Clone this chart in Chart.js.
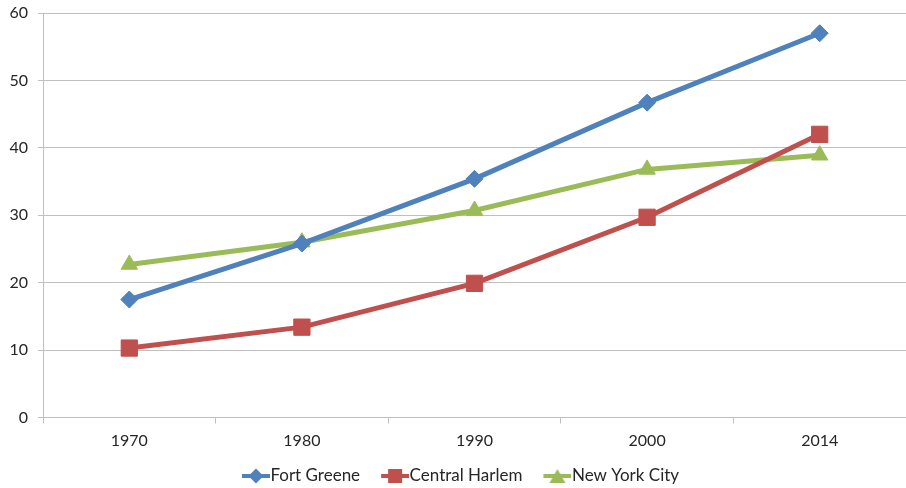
<!DOCTYPE html>
<html>
<head>
<meta charset="utf-8">
<script src="https://cdn.jsdelivr.net/npm/chart.js@4"></script>
<style>
  html, body { margin: 0; padding: 0; background: #fff; }
  #wrap { width: 906px; height: 488px; }
</style>
</head>
<body>
<div id="wrap"><canvas id="chart" width="906" height="488"></canvas></div>
<script>
// --- Data ---
const years = ['1970', '1980', '1990', '2000', '2014'];
const fortGreene = [17.5, 25.8, 35.4, 46.7, 57.0];
const centralHarlem = [10.3, 13.4, 19.9, 29.7, 42.0];
const newYorkCity = [22.7, 26.0, 30.7, 36.8, 38.9];
const yTicks = [0, 10, 20, 30, 40, 50, 60];

const colors = {
    blue: '#4f81bd',
    red: '#c0504d',
    green: '#9bbb59',
    grid: '#bfbfbf',
    text: '#262626'
};
const fontFamily = 'Lato, "Open Sans", sans-serif';
const legendBoxW = 35;

// legend swatch: line with the marker in the middle, pushed to the right
// edge of the canvas so it sits right against the label text
function legendSwatch(color, shape) {
    const c = document.createElement('canvas');
    c.width = legendBoxW + 16; c.height = 18;
    const g = c.getContext('2d');
    const x0 = c.width - 28, cx = x0 + 14;
    g.strokeStyle = color; g.fillStyle = color; g.lineWidth = 4;
    g.beginPath(); g.moveTo(x0, 9); g.lineTo(c.width, 9); g.stroke();
    g.beginPath();
    if (shape === 'diamond') {
        g.moveTo(cx, 1.5); g.lineTo(cx + 7.5, 9); g.lineTo(cx, 16.5); g.lineTo(cx - 7.5, 9);
    } else if (shape === 'square') {
        g.rect(cx - 7, 2, 14, 14);
    } else {
        g.moveTo(cx, 2); g.lineTo(cx + 8, 16); g.lineTo(cx - 8, 16);
    }
    g.closePath(); g.fill();
    return c;
}

const seriesDefs = [
    { label: 'Fort Greene', data: fortGreene, color: colors.blue, style: 'rectRot', radius: 8.5, swatch: 'diamond' },
    { label: 'Central Harlem', data: centralHarlem, color: colors.red, style: 'rect', radius: 11.5, swatch: 'square' },
    { label: 'New York City', data: newYorkCity, color: colors.green, style: 'triangle', radius: 9.5, swatch: 'triangle' }
];

const datasets = seriesDefs.map(s => ({
    label: s.label,
    data: s.data,
    borderColor: s.color,
    backgroundColor: s.color,
    borderWidth: 5,
    pointStyle: s.style,
    pointRadius: s.radius,
    pointBorderWidth: 1,
    pointBackgroundColor: s.color,
    pointBorderColor: s.color,
    tension: 0,
    fill: false
}));

new Chart(document.getElementById('chart'), {
    type: 'line',
    data: { labels: years, datasets: datasets },
    options: {
        responsive: false,
        animation: false,
        layout: { autoPadding: false, padding: { top: 13, right: 0, left: 0, bottom: -6.5 } },
        plugins: {
            tooltip: { enabled: false },
            legend: {
                position: 'bottom',
                labels: {
                    usePointStyle: true,
                    pointStyleWidth: legendBoxW,
                    padding: 6,
                    color: colors.text,
                    font: { family: fontFamily, size: 17 },
                    generateLabels: chart => seriesDefs.map((s, i) => ({
                        text: s.label,
                        fillStyle: s.color,
                        strokeStyle: s.color,
                        lineWidth: 0,
                        pointStyle: legendSwatch(s.color, s.swatch),
                        datasetIndex: i,
                        fontColor: colors.text
                    }))
                }
            }
        },
        scales: {
            x: {
                offset: true,
                afterFit: scale => { scale.height = 44; },
                grid: {
                    offset: true,
                    drawOnChartArea: false,
                    drawTicks: true,
                    tickLength: 6,
                    color: colors.grid
                },
                border: { color: colors.grid, width: 1 },
                ticks: {
                    color: colors.text,
                    padding: 8,
                    font: { family: fontFamily, size: 16 }
                }
            },
            y: {
                min: 0,
                max: 60,
                afterFit: scale => {
                    scale.width = 43;
                    scale.paddingTop = 0;
                    scale.paddingBottom = 0;
                },
                afterBuildTicks: scale => { scale.ticks = yTicks.map(v => ({ value: v })); },
                grid: {
                    color: colors.grid,
                    tickLength: 5,
                    lineWidth: 1
                },
                border: { color: colors.grid, width: 1 },
                ticks: {
                    color: colors.text,
                    padding: 10,
                    font: { family: fontFamily, size: 16 }
                }
            }
        }
    }
});
</script>
</body>
</html>
